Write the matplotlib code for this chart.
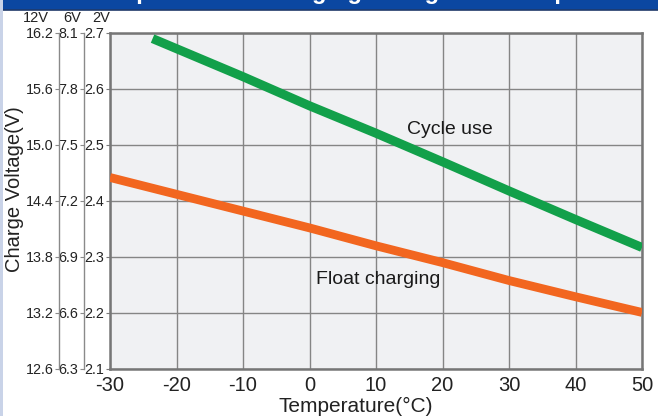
import matplotlib
matplotlib.use("Agg")
import matplotlib.pyplot as plt
from matplotlib import font_manager
from matplotlib.patches import Rectangle

# ---- data ----
temps = [-30, -20, -10, 0, 10, 20, 30, 40, 50]
float_v = [2.442, 2.412, 2.382, 2.352, 2.320, 2.290, 2.258, 2.229, 2.201]
cycle_t = [-23.6, -20, -10, 0, 10, 20, 30, 40, 50]
cycle_v = [2.690, 2.672, 2.622, 2.570, 2.521, 2.470, 2.418, 2.367, 2.317]
x_ticks = [-30, -20, -10, 0, 10, 20, 30, 40, 50]
y_ticks_2v = [2.1, 2.2, 2.3, 2.4, 2.5, 2.6, 2.7]
cells_6v = 3
cells_12v = 6

def pick_font(names):
    for n in names:
        try:
            font_manager.findfont(n, fallback_to_default=False)
            return n
        except Exception:
            pass
    return "DejaVu Sans"

FONT = pick_font(["Liberation Sans Narrow", "Liberation Sans"])
plt.rcParams['font.family'] = [FONT, 'DejaVu Sans']

W, H = 658, 416
fig = plt.figure(figsize=(W / 100, H / 100), dpi=100)
fig.patch.set_facecolor('white')

def fx(px):
    return px / W

def fy(py):
    return 1 - py / H

# left border & banner
fig.patches.append(Rectangle((0, 0), fx(2.5), 1, transform=fig.transFigure,
                             facecolor='#c9d3e8', edgecolor='none', zorder=0))
ban = fig.add_axes([0, fy(10), 1, 10 / H])
ban.set_facecolor('#0b47a1')
ban.set_xlim(0, 1)
ban.set_ylim(0, 1)
for s in ban.spines.values():
    s.set_visible(False)
ban.spines['bottom'].set_visible(True)
ban.spines['bottom'].set_color('#203a6a')
ban.spines['bottom'].set_linewidth(1.2)
ban.set_xticks([])
ban.set_yticks([])
ban.text(0.5, 0.55, "Relationship between Charging Voltage and Temperature",
         color='white', fontsize=17, ha='center', va='bottom', clip_on=True,
         fontweight='bold')

# main axes
L, R, T, B = 110, 642, 33, 369
ax = fig.add_axes([fx(L), fy(B), (R - L) / W, (B - T) / H])
ax.set_facecolor('#f0f1f3')
ax.set_xlim(-30, 50)
ax.set_ylim(2.1, 2.7)
ax.set_xticks(x_ticks)
ax.set_yticks(y_ticks_2v)
ax.set_xticklabels([str(v) for v in x_ticks])
ax.set_yticklabels([f"{v:.1f}" for v in y_ticks_2v])
ax.grid(True, color='#858585', linewidth=1.0)
ax.set_axisbelow(True)
for s in ax.spines.values():
    s.set_color('#767676')
    s.set_linewidth(1.8)
ax.tick_params(axis='x', length=0, pad=5, labelsize=14.5, colors='#222222')
ax.tick_params(axis='y', length=3, width=0.8, pad=1, labelsize=10.3,
               colors='#7a7a7a', labelcolor='#222222')

ax.plot(cycle_t, cycle_v, color='#12a04a', linewidth=6.5, solid_capstyle='butt',
        solid_joinstyle='round', clip_on=True, zorder=3)
ax.plot(temps, float_v, color='#f2661f', linewidth=6.3, solid_capstyle='butt',
        solid_joinstyle='round', clip_on=True, zorder=3)

ax.text(21.1, 2.528, "Cycle use", fontsize=14, color='#1a1a1a', ha='center', va='center')
ax.text(10.3, 2.259, "Float charging", fontsize=14, color='#1a1a1a', ha='center', va='center')

fig.text(fx(356), fy(406), "Temperature(°C)", fontsize=15, color='#222222',
         ha='center', va='center')

# secondary voltage columns
for mult, px in ((cells_6v, 84), (cells_12v, 59)):
    loc = (px - L) / (R - L)
    sec = ax.secondary_yaxis(loc, functions=(lambda y, m=mult: y * m,
                                             lambda y, m=mult: y / m))
    sec.set_yticks([v * mult for v in y_ticks_2v])
    sec.set_yticklabels([f"{v * mult:.1f}" for v in y_ticks_2v])
    sec.spines['left'].set_color('#8a8a8a')
    sec.spines['left'].set_linewidth(1.0)
    sec.tick_params(axis='y', length=3, width=0.8, pad=1, labelsize=10.3,
                    colors='#8a8a8a', labelcolor='#222222')

# column headers
for label, px in (("12V", 49), ("6V", 81), ("2V", 110)):
    fig.text(fx(px), fy(18.5), label, fontsize=10.5, ha='right', va='center', color='#222222')

fig.text(fx(15), fy(189), "Charge Voltage(V)", rotation=90, fontsize=14.5,
         ha='center', va='center', color='#222222')

fig.savefig("out.png", dpi=100)
